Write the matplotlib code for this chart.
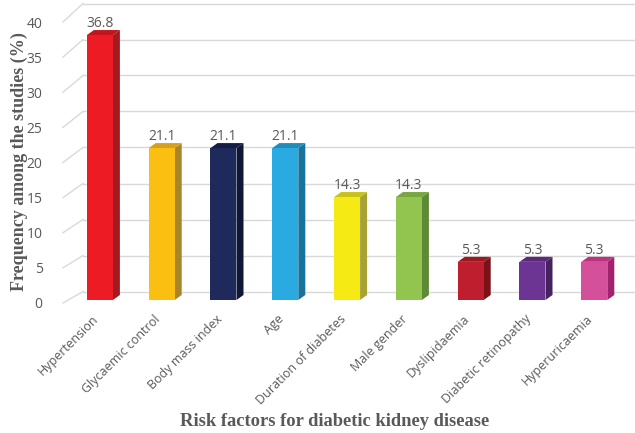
import matplotlib
matplotlib.use("Agg")
import matplotlib.pyplot as plt
import matplotlib.transforms as mtransforms
from matplotlib.patches import Polygon

# data
categories = ["Hypertension", "Glycaemic control", "Body mass index", "Age",
              "Duration of diabetes", "Male gender", "Dyslipidaemia",
              "Diabetic retinopathy", "Hyperuricaemia"]
values = [36.8, 21.1, 21.1, 21.1, 14.3, 14.3, 5.3, 5.3, 5.3]
front_colors = ["#ED1C24", "#FBBF12", "#1F2A5C", "#29ABE2", "#F5EA14",
                "#92C550", "#BE1E2D", "#6D3593", "#D5509B"]
side_colors = ["#A31A20", "#A8842B", "#0F1737", "#17739A", "#A7A233",
               "#5E8A35", "#7A1217", "#46235F", "#A1226F"]
top_colors = ["#C0161D", "#D4A020", "#151E45", "#1E8DBA", "#C9C21A",
              "#78A641", "#9B1A22", "#5A2B7A", "#B9357F"]
yticks = [0, 5, 10, 15, 20, 25, 30, 35, 40]

W, H = 635, 433
px_x = 61.8   # pixels per category
px_y = 7.2    # pixels per unit

fig = plt.figure(figsize=(W / 100, H / 100), dpi=100)
ax = fig.add_axes([69 / W, (H - 300) / H, 9 * px_x / W, 40 * px_y / H])
ax.set_xlim(-0.5, 8.5)
ax.set_ylim(0, 40)
for s in ax.spines.values():
    s.set_visible(False)

grid_c = "#D9D9D9"
text_c = "#595959"

# back wall offset (data units)
wall_dy = 8.5 / px_y
x_wall_left = -0.5 + 14 / px_x
for v in yticks:
    ax.plot([x_wall_left, 9.0], [v + wall_dy, v + wall_dy], color=grid_c,
            lw=1, clip_on=False, zorder=0)
    ax.plot([-0.5 - 6 / px_x, x_wall_left],
            [(-3 + 7.025 * v) / px_y, v + wall_dy],
            color=grid_c, lw=1, clip_on=False, zorder=0)

# bars: front faces + side and top faces for the 3d look
bw = 26 / px_x
sdx = 7 / px_x
sdy = 5 / px_y
xs = list(range(len(categories)))
ax.bar(xs, values, width=bw, color=front_colors, zorder=3)
for x, v, sc, tc in zip(xs, values, side_colors, top_colors):
    r = x + bw / 2
    l = x - bw / 2
    ax.add_patch(Polygon([(r, 0), (r + sdx, sdy), (r + sdx, v + sdy), (r, v)],
                         closed=True, facecolor=sc, edgecolor="none", zorder=2))
    ax.add_patch(Polygon([(l, v), (r, v), (r + sdx, v + sdy), (l + sdx, v + sdy)],
                         closed=True, facecolor=tc, edgecolor="none", zorder=2))
    ax.text(x, v + sdy - 0.15, f"{v:.1f}", ha="center", va="bottom",
            fontsize=10, color=text_c, family="Open Sans")

ax.set_yticks([])
ax.set_xticks(xs)
ax.set_xticklabels(categories, rotation=45, ha="right", rotation_mode="anchor",
                   fontsize=9, color=text_c, family="Open Sans")
ax.tick_params(axis="x", length=0, pad=9)
shift = mtransforms.ScaledTranslation(-8 / 100, 0, fig.dpi_scale_trans)
for lab in ax.get_xticklabels():
    lab.set_transform(lab.get_transform() + shift)

# y tick labels on front edge
ax_t = fig.add_axes([69 / W, (H - 303) / H, 0.01, 281 / H])
ax_t.set_ylim(0, 40)
ax_t.set_xticks([])
ax_t.set_yticks(yticks)
ax_t.set_yticklabels([str(t) for t in yticks], fontsize=10, color=text_c,
                     family="Open Sans")
ax_t.tick_params(axis="y", length=0, pad=19)
ax_t.patch.set_visible(False)
for s in ax_t.spines.values():
    s.set_visible(False)

fig.text(19 / W, 1 - 162 / H, "Frequency among the studies (%)", rotation=90,
         ha="center", va="center", fontsize=13, fontweight="bold",
         family="Liberation Serif", color=text_c)
fig.text(335 / W, 1 - 422 / H, "Risk factors for diabetic kidney disease",
         ha="center", va="center", fontsize=13.3, fontweight="bold",
         family="Liberation Serif", color=text_c)

fig.savefig("out.png", dpi=100)
